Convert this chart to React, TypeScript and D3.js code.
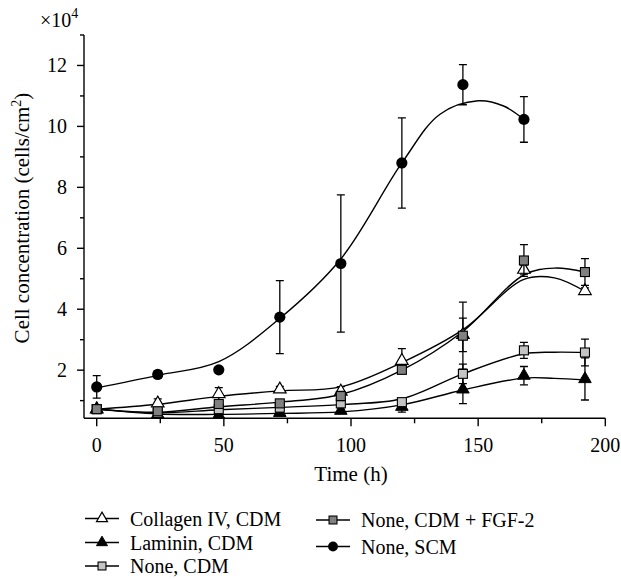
import React, { useEffect } from 'react';
import * as d3 from 'd3';

// measured time points (h)
const times = [0, 24, 48, 72, 96, 120, 144, 168, 192];
const scmTimes = [0, 24, 48, 72, 96, 120, 144, 168];

// means and error (x10^4 cells/cm2)
const collagenMean = [0.72, 0.91, 1.22, 1.37, 1.3, 2.31, 3.16, 5.3, 4.6];
const collagenErr = [0.04, 0.15, 0.21, 0.1, 0.16, 0.4, 0.55, 0.15, 0.1];
const lamininMean = [0.72, 0.55, 0.52, 0.6, 0.67, 0.8, 1.37, 1.82, 1.71];
const lamininErr = [0.03, 0.05, 0.05, 0.05, 0.05, 0.18, 0.47, 0.3, 0.69];
const cdmMean = [0.72, 0.6, 0.72, 0.77, 0.91, 0.95, 1.88, 2.65, 2.58];
const cdmErr = [0.03, 0.05, 0.08, 0.08, 0.1, 0.1, 0.32, 0.26, 0.44];
const fgfMean = [0.72, 0.65, 0.89, 0.91, 1.15, 2.01, 3.13, 5.6, 5.22];
const fgfErr = [0.03, 0.08, 0.1, 0.1, 0.15, 0.1, 1.1, 0.52, 0.44];
const scmMean = [1.45, 1.86, 2.01, 3.74, 5.5, 8.8, 11.37, 10.23];
const scmErr = [0.37, 0.12, 0.1, 1.2, 2.25, 1.48, 0.66, 0.75];

// fitted curves
const fitTimes = [0, 24, 48, 72, 96, 120, 144, 168, 180, 192];
const collagenFit = [0.72, 0.88, 1.14, 1.32, 1.45, 2.25, 3.33, 4.98, 5.03, 4.59];
const fgfFit = [0.72, 0.62, 0.8, 0.95, 1.2, 2.0, 3.27, 5.13, 5.35, 5.22];
const cdmFit = [0.72, 0.6, 0.7, 0.78, 0.87, 1.06, 1.88, 2.54, 2.59, 2.58];
const lamininFit = [0.72, 0.56, 0.55, 0.58, 0.63, 0.86, 1.35, 1.74, 1.73, 1.68];
const scmFitTimes = [0, 24, 48, 72, 96, 120, 135, 150, 160, 168];
const scmFit = [1.42, 1.83, 2.28, 3.7, 5.65, 8.8, 10.4, 10.84, 10.67, 10.23];

const xMajor = [0, 50, 100, 150, 200];
const xMinor = [25, 75, 125, 175];
const yMajor = [2, 4, 6, 8, 10, 12];
const yMinor = [1, 3, 5, 7, 9, 11, 13];

type Marker = 'triUp' | 'triFill' | 'sqLight' | 'sqDark' | 'circle';

interface Series {
  name: string;
  marker: Marker;
  t: number[];
  mean: number[];
  err: number[];
  fitT: number[];
  fit: number[];
}

const series: Series[] = [
  { name: 'Collagen IV, CDM', marker: 'triUp', t: times, mean: collagenMean, err: collagenErr, fitT: fitTimes, fit: collagenFit },
  { name: 'Laminin, CDM', marker: 'triFill', t: times, mean: lamininMean, err: lamininErr, fitT: fitTimes, fit: lamininFit },
  { name: 'None, CDM', marker: 'sqLight', t: times, mean: cdmMean, err: cdmErr, fitT: fitTimes, fit: cdmFit },
  { name: 'None, CDM + FGF-2', marker: 'sqDark', t: times, mean: fgfMean, err: fgfErr, fitT: fitTimes, fit: fgfFit },
  { name: 'None, SCM', marker: 'circle', t: scmTimes, mean: scmMean, err: scmErr, fitT: scmFitTimes, fit: scmFit },
];

const FONT = "'Liberation Serif', monospace";

function markerEl(m: Marker, cx: number, cy: number, scale = 1, key?: string | number) {
  const tri = d3.symbol().type(d3.symbolTriangle).size(68 * scale * scale)()!;
  const sq = 9 * scale;
  switch (m) {
    case 'triUp':
      return <path key={key} d={tri} transform={`translate(${cx},${cy})`} fill="#fff" stroke="#000" strokeWidth={1.2} />;
    case 'triFill':
      return <path key={key} d={tri} transform={`translate(${cx},${cy})`} fill="#000" stroke="#000" strokeWidth={1} />;
    case 'sqLight':
      return <rect key={key} x={cx - sq / 2} y={cy - sq / 2} width={sq} height={sq} fill="#c4c4c4" stroke="#000" strokeWidth={1.1} />;
    case 'sqDark':
      return <rect key={key} x={cx - sq / 2} y={cy - sq / 2} width={sq} height={sq} fill="#808080" stroke="#000" strokeWidth={1.1} />;
    default:
      return <circle key={key} cx={cx} cy={cy} r={5.6 * scale} fill="#000" />;
  }
}

export default function App() {
  const width = 621;
  const height = 579;
  const x = d3.scaleLinear().domain([-5, 200]).range([84, 605.3]);
  const y = d3.scaleLinear().domain([0.42, 13]).range([418.3, 35]);
  const [y0, y1] = y.range();
  const [x0, x1] = x.range();

  // drop the default body margin so the svg sits at the page corner
  useEffect(() => {
    document.body.style.margin = '0';
  }, []);

  const line = d3.line<[number, number]>()
    .x(d => x(d[0]))
    .y(d => y(d[1]))
    .curve(d3.curveCatmullRom.alpha(0.5));

  const legendCols = [
    { lx: 85, rows: [518.5, 542.5, 566] },
    { lx: 316, rows: [520, 546.5] },
  ];

  const txt = { fontFamily: FONT };

  return (
    <svg width={width} height={height}>
      <defs>
        <clipPath id="plot-clip">
          <rect x={x0} y={y1 - 10} width={x1 - x0 + 20} height={y0 - y1 + 10} />
        </clipPath>
      </defs>

      {/* fitted curves */}
      <g clipPath="url(#plot-clip)">
        {series.map(s => (
          <path key={s.name} d={line(s.fitT.map((t, i) => [t, s.fit[i]] as [number, number]))!} fill="none" stroke="#000" strokeWidth={1.4} />
        ))}
      </g>

      {/* error bars and markers */}
      <g clipPath="url(#plot-clip)">
        {series.map(s => (
          <g key={s.name}>
            {s.t.map((t, i) => {
              const cx = x(t);
              const top = y(s.mean[i] + s.err[i]);
              const bot = y(s.mean[i] - s.err[i]);
              return (
                <g key={i} stroke="#000" strokeWidth={1.3}>
                  <line x1={cx} x2={cx} y1={top} y2={bot} />
                  <line x1={cx - 4} x2={cx + 4} y1={top} y2={top} />
                  <line x1={cx - 4} x2={cx + 4} y1={bot} y2={bot} />
                </g>
              );
            })}
            {s.t.map((t, i) => markerEl(s.marker, x(t), y(s.mean[i]), 1, i))}
          </g>
        ))}
      </g>

      {/* y axis */}
      <g stroke="#000" strokeWidth={1.4}>
        <line x1={x0} x2={x0} y1={y1} y2={y0} />
        {yMajor.map(v => <line key={v} x1={x0 - 7} x2={x0} y1={y(v)} y2={y(v)} />)}
        {yMinor.map(v => <line key={v} x1={x0 - 4} x2={x0} y1={y(v)} y2={y(v)} />)}
      </g>
      {yMajor.map(v => (
        <text key={v} x={x0 - 17} y={y(v)} dy="0.35em" textAnchor="end" fontSize={20} style={txt}>{v}</text>
      ))}

      {/* x axis */}
      <g stroke="#000" strokeWidth={1.4}>
        <line x1={x0} x2={x1} y1={y0} y2={y0} />
        {xMajor.map(v => <line key={v} x1={x(v)} x2={x(v)} y1={y0} y2={y0 + 8} />)}
        {xMinor.map(v => <line key={v} x1={x(v)} x2={x(v)} y1={y0} y2={y0 + 5} />)}
      </g>
      {xMajor.map(v => (
        <text key={v} x={x(v)} y={451.5} textAnchor="middle" fontSize={20} style={txt}>{v}</text>
      ))}

      {/* titles */}
      <text x={(x(0) + x(200)) / 2} y={481} textAnchor="middle" fontSize={21} style={txt}>Time (h)</text>
      <text transform="translate(29,218) rotate(-90)" textAnchor="middle" fontSize={21} style={txt}>
        Cell concentration (cells/cm<tspan fontSize={14} dy={-8}>2</tspan><tspan dy={8}>)</tspan>
      </text>
      <text x={40} y={27} fontSize={20} style={txt}>
        ×10<tspan fontSize={14} dy={-9}>4</tspan>
      </text>

      {/* legend */}
      {series.map((s, i) => {
        const col = i < 3 ? legendCols[0] : legendCols[1];
        const cy = col.rows[i < 3 ? i : i - 3];
        return (
          <g key={s.name}>
            <line x1={col.lx} x2={col.lx + 34} y1={cy} y2={cy} stroke="#000" strokeWidth={1.4} />
            {markerEl(s.marker, col.lx + 17, cy, 0.88)}
            <text x={col.lx + 45} y={cy} dy="0.35em" fontSize={20} style={txt}>{s.name}</text>
          </g>
        );
      })}
    </svg>
  );
}
